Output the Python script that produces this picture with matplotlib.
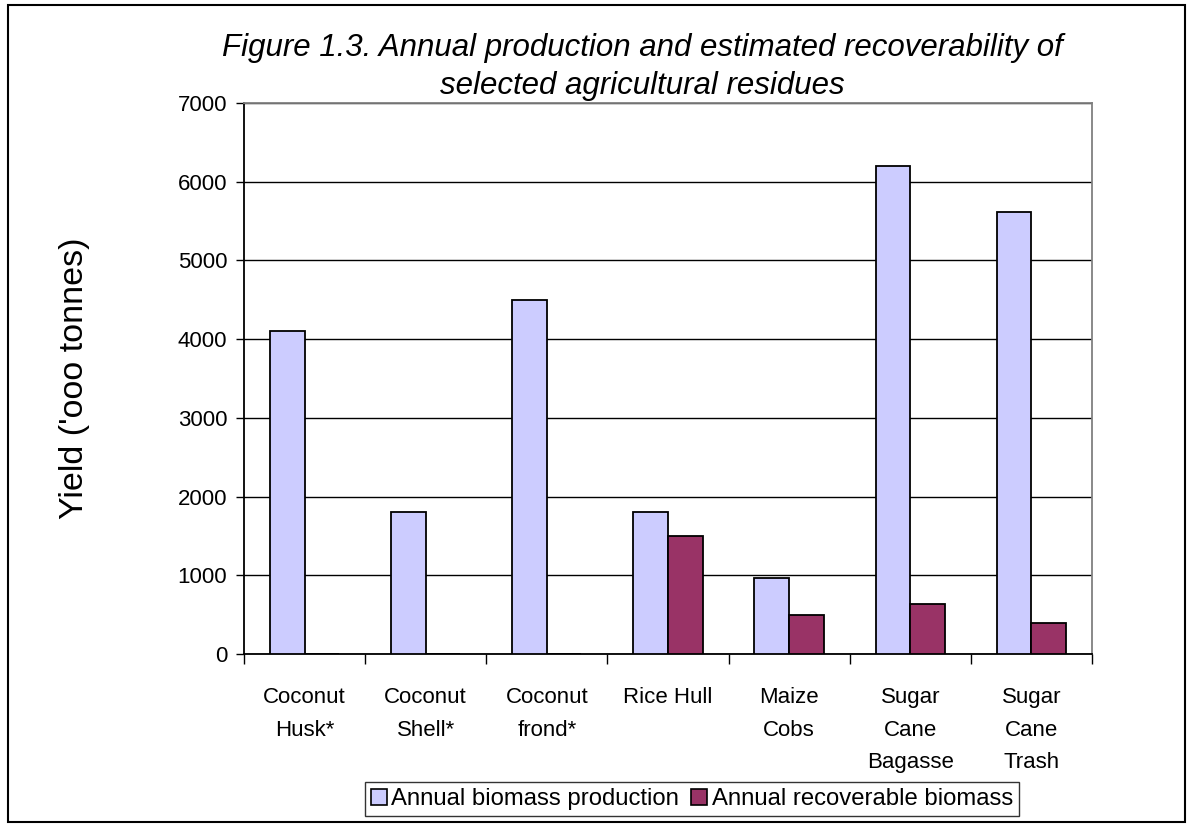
import numpy as np
import matplotlib
matplotlib.use("Agg")
import matplotlib.pyplot as plt
from matplotlib.patches import Patch, Rectangle

plt.rcParams["font.family"] = ["Liberation Sans", "DejaVu Sans"]

categories = ["Coconut\nHusk*", "Coconut\nShell*", "Coconut\nfrond*", "Rice Hull",
              "Maize\nCobs", "Sugar\nCane\nBagasse", "Sugar\nCane\nTrash"]
production = [4100, 1800, 4500, 1800, 960, 6200, 5620]
recoverable = [0, 0, 0, 1500, 490, 640, 390]
series_names = ["Annual biomass production", "Annual recoverable biomass"]

LIGHT = "#CCCCFF"
DARK = "#993366"

fig = plt.figure(figsize=(11.9, 8.24), dpi=100)
ax = fig.add_axes([0.205, 0.2063, 0.7126, 0.6687])

x = np.arange(len(categories))
w = 1 / 3.5
ax.bar(x - w / 2, production, w, color=LIGHT, edgecolor="black", lw=1.3, zorder=3)
ax.bar(x + w / 2, recoverable, w, color=DARK, edgecolor="black", lw=1.3, zorder=3)

ax.set_xlim(-0.5, len(categories) - 0.5)
ax.set_ylim(0, 7000)
ax.set_yticks(range(0, 7001, 1000))
ax.yaxis.grid(True, color="black", lw=1.0, zorder=0)
ax.tick_params(axis="y", labelsize=16, length=6, width=1, direction="out", pad=6)

# ticks sit between categories, labels centred under each pair
ax.set_xticks(np.arange(len(categories) + 1) - 0.5)
ax.set_xticklabels([])
ax.set_xticks(x, minor=True)
ax.set_xticklabels(categories, minor=True, fontsize=16, linespacing=1.7)
ax.tick_params(axis="x", which="major", length=7, width=1, direction="out")
ax.tick_params(axis="x", which="minor", length=0, pad=24)

for side in ("left", "bottom"):
    ax.spines[side].set_color("black")
    ax.spines[side].set_linewidth(1.3)
for side in ("top", "right"):
    ax.spines[side].set_color("#808080")
    ax.spines[side].set_linewidth(1.3)

ax.set_ylabel("Yield ('ooo tonnes)", fontsize=24.5, labelpad=63)

fig.text(0.540, 0.942, "Figure 1.3. Annual production and estimated recoverability of",
         ha="center", va="center", fontsize=22.5, style="italic")
fig.text(0.540, 0.896, "selected agricultural residues",
         ha="center", va="center", fontsize=22.5, style="italic")

handles = [Patch(facecolor=LIGHT, edgecolor="black", lw=1.2),
           Patch(facecolor=DARK, edgecolor="black", lw=1.2)]
leg = fig.legend(handles, series_names, loc="center", bbox_to_anchor=(0.5815, 0.0303),
                 ncol=2, fontsize=17.2, frameon=True, fancybox=False,
                 handlelength=0.65, handleheight=0.65, handletextpad=0.2,
                 columnspacing=0.5, borderpad=0.25, borderaxespad=0)
leg.get_frame().set_edgecolor("black")
leg.get_frame().set_linewidth(1.0)

fig.patches.append(Rectangle((8 / 1190, 2 / 824), 1177 / 1190, 817 / 824,
                             transform=fig.transFigure, fill=False,
                             edgecolor="black", lw=1.5))

fig.savefig("out.png", dpi=100)
